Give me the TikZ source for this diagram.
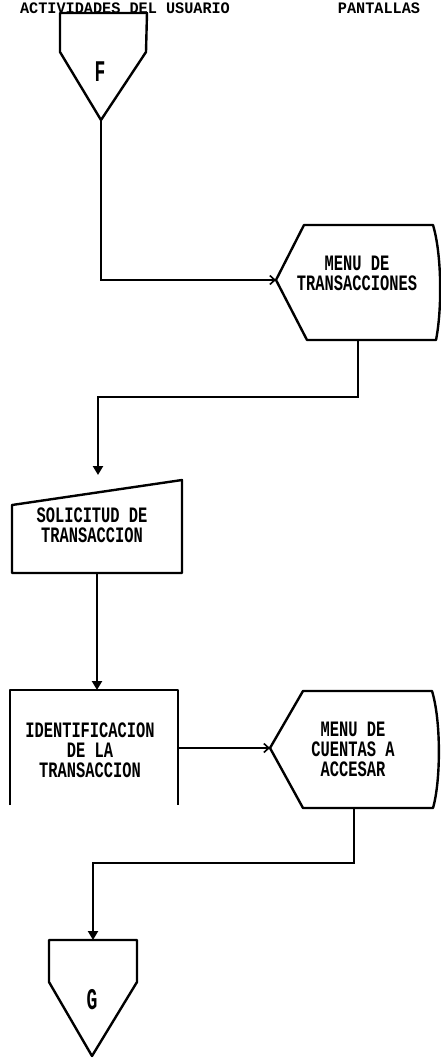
\documentclass[tikz,border=0pt]{standalone}
\usepackage{fontspec}
\newfontfamily\dotfont[FakeStretch=0.7]{Liberation Mono}
\newfontfamily\bigfont[FakeStretch=0.6]{Liberation Mono}
\newfontfamily\hdfont[FakeStretch=0.95]{Liberation Mono}
\usetikzlibrary{arrows.meta}
\tikzset{
  shp/.style={line width=2.4pt, line join=round},
  conn/.style={line width=2.4pt},
  downarrow/.style={conn, -{Triangle[length=9pt,width=10pt]}},
  inarrow/.style={conn, -{Straight Barb[length=5pt,width=9pt,line width=1.6pt]}},
  lbl/.style={font=\dotfont\bfseries\fontsize{22}{20}\selectfont, align=center, inner sep=0pt},
  hdr/.style={font=\hdfont\bfseries\fontsize{16}{16}\selectfont, inner sep=0pt},
  big/.style={font=\bigfont\bfseries\fontsize{30}{16}\selectfont, inner sep=0pt}
}
\begin{document}
\begin{tikzpicture}[x=1pt,y=-1pt]
\useasboundingbox (0,0) rectangle (440,1058);
\fill[white] (0,0) rectangle (440,1058);

% header
\node[hdr, anchor=base] (h1) at (125,13) {ACTIVIDADES DEL USUARIO};
\node[hdr, anchor=base] (h2) at (379,13) {PANTALLAS};

% F connector
\draw[shp] (60,13)--(147,13)--(146,52)--(101,120)--(60,52)--cycle;
\node[big] (F) at (100,72) {F};
\coordinate (Fb) at (101,120);

% display: menu de transacciones
\draw[shp] (276,280)--(304,225)--(433,225) .. controls (442,255) and (442,310) .. (436,340)--(307,340)--cycle;
\node[lbl] (MT) at (357,273) {MENU DE\\TRANSACCIONES};
\coordinate (MTl) at (276,280);
\coordinate (MTb) at (358,340);

% manual input: solicitud
\draw[shp] (12,505)--(182,480)--(182,573)--(12,573)--cycle;
\node[lbl] (SO) at (92,525) {SOLICITUD DE\\TRANSACCION};
\coordinate (SOt) at (98,488);
\coordinate (SOb) at (97,573);

% process: identificacion (open bottom)
\draw[shp] (10,805)--(10,690)--(178,690)--(178,805);
\node[lbl] (ID) at (90,750) {IDENTIFICACION\\DE LA\\TRANSACCION};
\coordinate (IDt) at (97,690);
\coordinate (IDr) at (178,748);

% display: menu de cuentas
\draw[shp] (270,748)--(303,691)--(432,691) .. controls (441,720) and (441,780) .. (433,808)--(303,808)--cycle;
\node[lbl] (MC) at (353,749) {MENU DE\\CUENTAS A\\ACCESAR};
\coordinate (MCl) at (270,748);
\coordinate (MCb) at (354,808);

% G connector
\draw[shp] (49,940)--(137,940)--(137,982)--(92,1056)--(49,982)--cycle;
\node[big] (G) at (92,1000) {G};
\coordinate (Gt) at (93,940);

% connectors
\draw[inarrow] (Fb) |- (MTl);
\draw[downarrow, shorten >=13pt] (MTb) -- (MTb |- 0,397) -| (SOt);
\draw[downarrow] (SOb) -- (IDt);
\draw[inarrow] (IDr) -- (MCl);
\draw[downarrow] (MCb) -- (MCb |- 0,863) -| (Gt);
\end{tikzpicture}
\end{document}
